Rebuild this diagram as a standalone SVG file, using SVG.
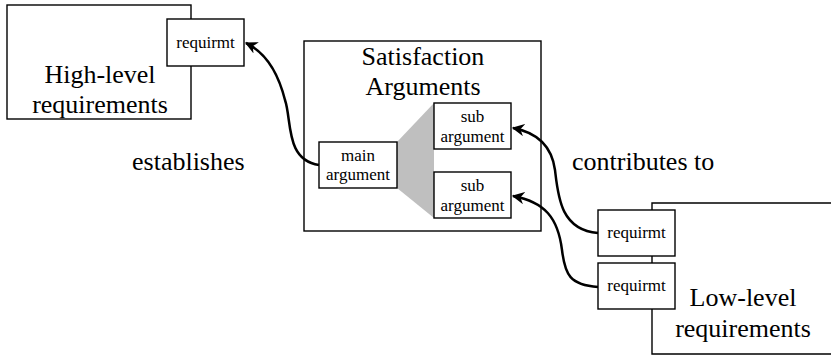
<svg xmlns="http://www.w3.org/2000/svg" width="831" height="356" viewBox="0 0 831 356" font-family="'Liberation Serif', 'Times New Roman', serif">
<style>
.box{fill:#fff;stroke:#000;stroke-width:1.4}
text{font-family:'Liberation Serif','Times New Roman',serif;fill:#000}
.big{font-size:26px;text-anchor:middle}
.sm{font-size:17px;text-anchor:middle}
.lbl{font-size:26px}
.con{fill:none;stroke:#000;stroke-width:2.5}
</style>
<defs>
<marker id="ah" viewBox="0 0 10 10" refX="9" refY="5" markerWidth="5" markerHeight="5" orient="auto" markerUnits="strokeWidth">
<path d="M0,0 L10,5 L0,10 L3,5 Z" fill="#000"/>
</marker>
</defs>
<rect width="831" height="356" fill="#fff"/>
<g id="high-level">
<rect class="box" x="7" y="5" width="184" height="114"/>
<text class="big" x="100" y="83">High-level</text>
<text class="big" x="100" y="113">requirements</text>
</g>
<g id="hl-requirmt">
<rect class="box" x="167" y="19" width="77" height="47"/>
<text class="sm" x="205.5" y="48">requirmt</text>
</g>
<g id="satisfaction">
<rect class="box" x="304" y="41" width="237" height="190"/>
<text class="big" x="423" y="65">Satisfaction</text>
<text class="big" x="423" y="95">Arguments</text>
</g>
<g id="fan">
<polygon points="397,142 434,103 434,218 397,188" fill="#bfbfbf"/>
</g>
<g id="main-argument">
<rect class="box" x="319" y="142" width="78" height="46"/>
<text class="sm" x="358" y="161">main</text>
<text class="sm" x="358" y="180">argument</text>
</g>
<g id="sub-argument-1">
<rect class="box" x="434" y="103" width="77" height="46"/>
<text class="sm" x="472.5" y="122">sub</text>
<text class="sm" x="472.5" y="142">argument</text>
</g>
<g id="sub-argument-2">
<rect class="box" x="434" y="172" width="77" height="46"/>
<text class="sm" x="472.5" y="191">sub</text>
<text class="sm" x="472.5" y="211">argument</text>
</g>
<g id="low-level">
<path class="box" d="M840,203 L652,203 L652,354 L840,354"/>
<text class="big" x="743" y="306">Low-level</text>
<text class="big" x="743" y="337">requirements</text>
</g>
<g id="ll-requirmt-1">
<rect class="box" x="598" y="210" width="77" height="46"/>
<text class="sm" x="636.5" y="238">requirmt</text>
</g>
<g id="ll-requirmt-2">
<rect class="box" x="598" y="263" width="77" height="46"/>
<text class="sm" x="636.5" y="291">requirmt</text>
</g>
<g id="connectors">
<path class="con" d="M319,165 C285,160 292,120 285,100 C278,72 265,52 246,43" marker-end="url(#ah)"/>
<path class="con" d="M598,233 C560,230 558,195 555,170 C552,148 540,133 513,128" marker-end="url(#ah)"/>
<path class="con" d="M598,287 C570,285 565,275 562,250 C558,218 545,202 513,196" marker-end="url(#ah)"/>
</g>
<g id="labels">
<text class="lbl" x="132" y="170">establishes</text>
<text class="lbl" x="572" y="170">contributes to</text>
</g>
</svg>
